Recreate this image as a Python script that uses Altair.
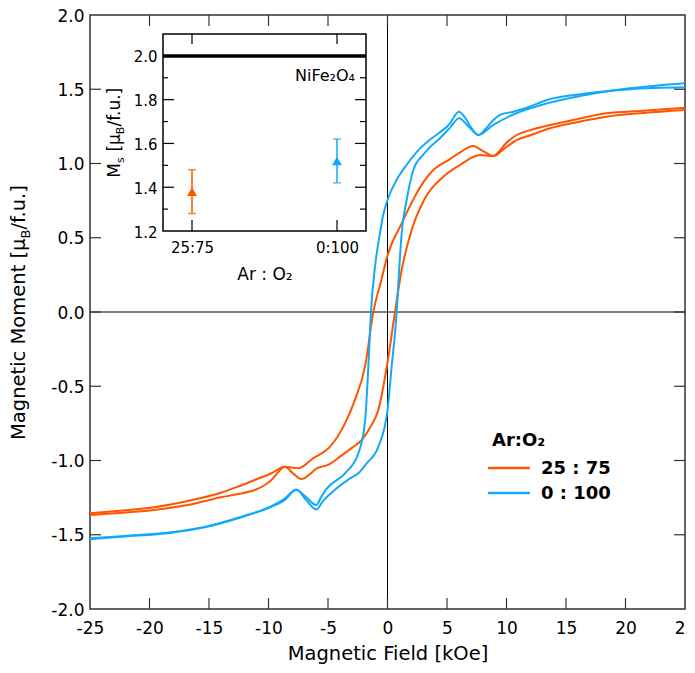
import altair as alt
import pandas as pd

# ---------------- data ----------------
SERIES = ["25 : 75", "0 : 100"]
COLORS = ["#FF5500", "#12AAF8"]
LEGEND_TITLE = "Ar:O₂"

# 25:75 loop, descending-field branch (from +25 to -25)
O_DN_X = [25.0, 21.5, 18.4, 16.0, 13.65, 12.0, 10.86, 10.0, 9.3, 8.9, 8.0, 7.2, 6.1, 5.25, 3.85, 3.15, 2.45, 1.19, 0.0, -0.5,
          -1.19, -1.89, -2.73, -3.57, -4.83, -6.24, -7.52, -8.64, -9.76, -11.16, -12.56, -14.0, -16.8, -19.6, -22.0, -25.0]
O_DN_Y = [1.375, 1.355, 1.338, 1.30, 1.259, 1.225, 1.192, 1.14, 1.075, 1.05, 1.085, 1.118, 1.075, 1.03, 0.956, 0.89, 0.80, 0.597, 0.38, 0.22,
          0.0, -0.368, -0.59, -0.75, -0.907, -0.985, -1.053, -1.042, -1.086, -1.131, -1.176, -1.217, -1.273, -1.315, -1.335, -1.356]
# 25:75 loop, ascending-field branch (from -25 to +25)
O_UP_X = [-25.0, -22.0, -19.6, -16.8, -14.0, -12.56, -11.16, -10.3, -9.76, -9.2, -8.64, -7.9, -7.24, -6.5, -5.95, -5.0, -3.99, -3.0, -2.17,
          -1.4, -0.77, 0.0, 0.63, 1.19, 2.03, 3.15, 4.69, 6.09, 7.77, 8.9, 9.8, 10.86, 12.0, 13.65, 16.0, 18.4, 21.5, 25.0]
O_UP_Y = [-1.367, -1.35, -1.333, -1.30, -1.248, -1.226, -1.199, -1.165, -1.131, -1.08, -1.042, -1.09, -1.125, -1.09, -1.053, -1.03, -0.974,
          -0.915, -0.862, -0.77, -0.66, -0.34, 0.0, 0.283, 0.552, 0.766, 0.911, 0.99, 1.057, 1.05, 1.10, 1.158, 1.19, 1.237, 1.28, 1.315, 1.34, 1.36]
# 0:100 loop, descending-field branch
B_DN_X = [25.0, 20.4, 16.2, 13.4, 11.5, 10.57, 9.45, 8.9, 8.2, 7.63, 7.0, 6.5, 6.0, 5.6, 5.25, 4.4, 3.57, 2.6, 1.6, 0.91, 0.0, -0.4,
          -0.63, -1.05, -1.39, -1.61, -1.89, -2.45, -3.57, -5.11, -5.6, -5.98, -6.8, -7.66, -8.7, -9.76, -12.56, -15.36, -18.17, -22.37, -25.0]
B_DN_Y = [1.513, 1.50, 1.466, 1.428, 1.37, 1.349, 1.327, 1.293, 1.23, 1.192, 1.245, 1.31, 1.349, 1.315, 1.27, 1.21, 1.16, 1.09, 0.99, 0.91,
          0.754, 0.64, 0.53, 0.305, 0.0, -0.368, -0.74, -0.952, -1.086, -1.19, -1.25, -1.30, -1.25, -1.199, -1.27, -1.311, -1.389, -1.45,
          -1.486, -1.513, -1.53]
# 0:100 loop, ascending-field branch
B_UP_X = [-25.0, -22.37, -18.17, -15.36, -12.56, -9.76, -8.7, -7.66, -6.8, -5.98, -5.4, -4.83, -3.15, -2.45, -1.75, -0.77, 0.0, 0.35,
          0.77, 0.91, 1.19, 1.61, 2.17, 3.0, 3.57, 4.4, 5.25, 6.0, 6.8, 7.63, 8.9, 10.57, 13.4, 16.2, 20.4, 25.0]
B_UP_Y = [-1.524, -1.51, -1.483, -1.447, -1.385, -1.308, -1.26, -1.195, -1.27, -1.33, -1.27, -1.225, -1.12, -1.086, -1.019, -0.907,
          -0.66, -0.368, 0.0, 0.19, 0.53, 0.754, 0.956, 1.06, 1.11, 1.17, 1.24, 1.304, 1.25, 1.192, 1.26, 1.33, 1.405, 1.455, 1.506, 1.54]

X_DOMAIN = [-25, 25]
Y_DOMAIN = [-2.0, 2.0]
X_TICKS = [-25, -20, -15, -10, -5, 0, 5, 10, 15, 20, 25]
Y_TICKS = [-2.0, -1.5, -1.0, -0.5, 0.0, 0.5, 1.0, 1.5, 2.0]

# inset
INSET_LABELS = ["25:75", "0:100"]
INSET_POS = [0, 1]
INSET_MS = [1.38, 1.52]
INSET_ERR = [0.10, 0.10]
INSET_REF = 2.0
INSET_REF_LABEL = "NiFe₂O₄"
INSET_X_DOMAIN = [-0.2, 1.2]
INSET_Y_DOMAIN = [1.2, 2.1]
INSET_Y_MAJOR = [1.2, 1.4, 1.6, 1.8, 2.0]
INSET_Y_MINOR = [1.3, 1.5, 1.7, 1.9]

# ---------------- layout ----------------
W, H = 595, 594
INSET_RANGE_X = [73, 276]
INSET_RANGE_Y = [216, 19]
FONT = "DejaVu Sans"
AX = "#333333"
TL = 11  # tick length

rows = []
for s, br, xs_, ys_ in [(SERIES[0], "dn", O_DN_X, O_DN_Y), (SERIES[0], "up", O_UP_X, O_UP_Y),
                        (SERIES[1], "dn", B_DN_X, B_DN_Y), (SERIES[1], "up", B_UP_X, B_UP_Y)]:
    for a, b in zip(xs_, ys_):
        rows.append({"field": a, "moment": b, "series": s, "branch": s + br})
curve_df = pd.DataFrame(rows)
one = pd.DataFrame({"k": [0]})

xs = alt.Scale(domain=X_DOMAIN, nice=False, zero=False)
ys = alt.Scale(domain=Y_DOMAIN, nice=False, zero=False)
cscale = alt.Scale(domain=SERIES, range=COLORS)

x_axis = alt.Axis(values=X_TICKS, ticks=False, domain=False, grid=False, labelFlush=False,
                  labelExpr="datum.value < 0 ? '-' + format(-datum.value, 'd') : format(datum.value, 'd')",
                  labelFontSize=17, labelColor="black", labelPadding=11,
                  title="Magnetic Field [kOe]", titleFontSize=19.5, titleFontWeight="normal",
                  titleColor="black", titlePadding=8)
y_axis = alt.Axis(values=Y_TICKS, ticks=False, domain=False, grid=False, labelOffset=1,
                  labelExpr="datum.value < 0 ? '-' + format(-datum.value, '.1f') : format(datum.value, '.1f')",
                  labelFontSize=17, labelColor="black", labelPadding=6, title=None)

curves = alt.Chart(curve_df).mark_line(strokeWidth=2, interpolate="monotone").encode(
    x=alt.X("field:Q", scale=xs, axis=x_axis),
    y=alt.Y("moment:Q", scale=ys, axis=y_axis),
    color=alt.Color("series:N", scale=cscale, legend=None),
    detail="branch:N",
)

zero_v = alt.Chart(one).mark_rule(color="black", strokeWidth=1).encode(x=alt.datum(0, scale=xs))
zero_h = alt.Chart(one).mark_rule(color="black", strokeWidth=1).encode(y=alt.datum(0, scale=ys))

xt = pd.DataFrame({"field": X_TICKS[1:-1]})
yt = pd.DataFrame({"moment": Y_TICKS[1:-1]})
t_bottom = alt.Chart(xt).mark_rule(color=AX, strokeWidth=1.2, y2Offset=-TL).encode(
    x=alt.X("field:Q", scale=xs), y=alt.datum(Y_DOMAIN[0]), y2=alt.datum(Y_DOMAIN[0]))
t_top = alt.Chart(xt).mark_rule(color=AX, strokeWidth=1.2, y2Offset=TL).encode(
    x=alt.X("field:Q", scale=xs), y=alt.datum(Y_DOMAIN[1]), y2=alt.datum(Y_DOMAIN[1]))
t_left = alt.Chart(yt).mark_rule(color=AX, strokeWidth=1.2, x2Offset=TL).encode(
    y=alt.Y("moment:Q", scale=ys), x=alt.datum(X_DOMAIN[0]), x2=alt.datum(X_DOMAIN[0]))
t_right = alt.Chart(yt).mark_rule(color=AX, strokeWidth=1.2, x2Offset=-TL).encode(
    y=alt.Y("moment:Q", scale=ys), x=alt.datum(X_DOMAIN[1]), x2=alt.datum(X_DOMAIN[1]))

# main y title with subscript
YT_X, YT_Y = -65, 223.5
yt1 = alt.Chart(one).mark_text(angle=270, align="right", baseline="alphabetic", fontSize=19.5, color="black").encode(
    x=alt.value(YT_X), y=alt.value(YT_Y), text=alt.value("Magnetic Moment [μ"))
yt2 = alt.Chart(one).mark_text(angle=270, align="left", baseline="alphabetic", fontSize=13, dy=4.5, color="black").encode(
    x=alt.value(YT_X), y=alt.value(YT_Y), text=alt.value("B"))
yt3 = alt.Chart(one).mark_text(angle=270, align="left", baseline="alphabetic", fontSize=19.5, dx=9, color="black").encode(
    x=alt.value(YT_X), y=alt.value(YT_Y), text=alt.value("/f.u.]"))

# legend (drawn from the series arrays)
LG_X, LG_Y, LG_STEP = 398, 453, 25
leg_df = pd.DataFrame({"series": SERIES, "row": list(range(len(SERIES)))})
leg_title = alt.Chart(one).mark_text(align="left", baseline="alphabetic", fontSize=18, fontWeight="bold",
                                     color="black").encode(
    x=alt.value(LG_X + 4), y=alt.value(LG_Y - 22), text=alt.value(LEGEND_TITLE))
leg_layers = []
for i, s in enumerate(SERIES):
    d = leg_df[leg_df["row"] == i]
    leg_layers.append(alt.Chart(d).mark_rule(strokeWidth=2.5).encode(
        x=alt.value(LG_X), x2=alt.value(LG_X + 42), y=alt.value(LG_Y + i * LG_STEP),
        color=alt.Color("series:N", scale=cscale, legend=None)))
    leg_layers.append(alt.Chart(d).mark_text(align="left", baseline="middle", fontSize=18, fontWeight="bold",
                                             color="black").encode(
        x=alt.value(LG_X + 53), y=alt.value(LG_Y + 1 + i * LG_STEP), text="series:N"))

main = alt.layer(zero_v, zero_h, curves, t_bottom, t_top, t_left, t_right, yt1, yt2, yt3, leg_title, *leg_layers)

# ---------------- inset ----------------
isx = alt.Scale(domain=INSET_X_DOMAIN, range=INSET_RANGE_X, nice=False, zero=False)
isy = alt.Scale(domain=INSET_Y_DOMAIN, range=INSET_RANGE_Y, nice=False, zero=False)

label_expr = "[" + ",".join("'" + l + "'" for l in INSET_LABELS) + "][datum.value]"
ix_axis = alt.Axis(orient="bottom", offset=INSET_RANGE_Y[0] - H, values=INSET_POS, labelExpr=label_expr,
                   ticks=False, domain=False, grid=False, labelFlush=False, labelFontSize=15, labelColor="black",
                   labelPadding=9, title="Ar : O₂", titleFontSize=17, titleFontWeight="normal",
                   titleColor="black", titlePadding=11)
iy_axis = alt.Axis(orient="left", offset=-INSET_RANGE_X[0], values=INSET_Y_MAJOR, format=".1f",
                   ticks=False, domain=False, grid=False, labelFontSize=15, labelColor="black",
                   labelPadding=6, labelOffset=1, title=None)

frame_df = pd.DataFrame({"ix": [INSET_X_DOMAIN[0]], "ix2": [INSET_X_DOMAIN[1]],
                         "iy": [INSET_Y_DOMAIN[0]], "iy2": [INSET_Y_DOMAIN[1]]})
frame = alt.Chart(frame_df).mark_rect(fill="white", stroke="black", strokeWidth=1.5).encode(
    x=alt.X("ix:Q", scale=isx, axis=ix_axis), x2="ix2:Q",
    y=alt.Y("iy:Q", scale=isy, axis=iy_axis), y2="iy2:Q")

maj = pd.DataFrame({"iy": INSET_Y_MAJOR[1:]})
mino = pd.DataFrame({"iy": INSET_Y_MINOR})
xpos = pd.DataFrame({"ix": INSET_POS})


def vtick(df, side, length):
    xv = INSET_X_DOMAIN[0] if side == "left" else INSET_X_DOMAIN[1]
    off = length if side == "left" else -length
    return alt.Chart(df).mark_rule(color="black", strokeWidth=1.2, x2Offset=off).encode(
        y=alt.Y("iy:Q", scale=isy), x=alt.datum(xv), x2=alt.datum(xv))


def htick(side, length):
    yv = INSET_Y_DOMAIN[1] if side == "top" else INSET_Y_DOMAIN[0]
    off = length if side == "top" else -length
    return alt.Chart(xpos).mark_rule(color="black", strokeWidth=1.2, y2Offset=off).encode(
        x=alt.X("ix:Q", scale=isx), y=alt.datum(yv), y2=alt.datum(yv))


iticks = [vtick(maj, "left", 11), vtick(mino, "left", 5), vtick(maj, "right", 11), vtick(mino, "right", 6),
          htick("top", 10), htick("bottom", 11)]

ref_line = alt.Chart(one).mark_rule(color="black", strokeWidth=3.5).encode(
    x=alt.datum(INSET_X_DOMAIN[0]), x2=alt.datum(INSET_X_DOMAIN[1]), y=alt.datum(INSET_REF))
ref_text = alt.Chart(one).mark_text(align="right", baseline="top", dx=-11, dy=12, fontSize=16, color="black").encode(
    x=alt.datum(INSET_X_DOMAIN[1]), y=alt.datum(INSET_REF), text=alt.value(INSET_REF_LABEL))

pts = pd.DataFrame({"ix": INSET_POS, "iy": INSET_MS,
                    "lo": [m - e for m, e in zip(INSET_MS, INSET_ERR)],
                    "hi": [m + e for m, e in zip(INSET_MS, INSET_ERR)],
                    "series": SERIES})
icol = alt.Color("series:N", scale=cscale, legend=None)
ebar = alt.Chart(pts).mark_rule(strokeWidth=1.5).encode(
    x=alt.X("ix:Q", scale=isx), y=alt.Y("lo:Q", scale=isy), y2="hi:Q", color=icol)
cap_lo = alt.Chart(pts).mark_tick(orient="horizontal", size=8, thickness=1.5).encode(
    x=alt.X("ix:Q", scale=isx), y=alt.Y("lo:Q", scale=isy), color=icol)
cap_hi = alt.Chart(pts).mark_tick(orient="horizontal", size=8, thickness=1.5).encode(
    x=alt.X("ix:Q", scale=isx), y=alt.Y("hi:Q", scale=isy), color=icol)
marks = alt.Chart(pts).mark_point(shape="triangle-up", filled=True, size=100, opacity=1).encode(
    x=alt.X("ix:Q", scale=isx), y=alt.Y("iy:Q", scale=isy), color=icol)

# inset y title with subscripts (pieces laid end to end along the rotated baseline)
IT_X, IT_Y = 30, 148
FS, FSS = 17, 11
it_parts = [("M", "right", FS, 0, 0), ("s", "left", FSS, 0, 4), ("[μ", "left", FS, 11.4, 0),
            ("B", "left", FSS, 28.8, 4), ("/f.u.]", "left", FS, 36.5, 0)]
it_layers = [alt.Chart(one).mark_text(angle=270, align=al, baseline="alphabetic", fontSize=fs, dx=dx, dy=dy,
                                      color="black").encode(x=alt.value(IT_X), y=alt.value(IT_Y), text=alt.value(t))
             for t, al, fs, dx, dy in it_parts]

inset = alt.layer(frame, *iticks, ref_line, ref_text, ebar, cap_lo, cap_hi, marks, *it_layers)

chart = alt.layer(main, inset).resolve_scale(
    x="independent", y="independent", color="independent"
).properties(
    width=W, height=H,
    autosize=alt.AutoSizeParams(type="none"),
    padding={"left": 82, "top": 7, "right": 2, "bottom": 56},
).configure(font=FONT).configure_view(stroke=AX, strokeWidth=1.5)

chart.save("out.html", embed_options={"renderer": "svg", "actions": False})
